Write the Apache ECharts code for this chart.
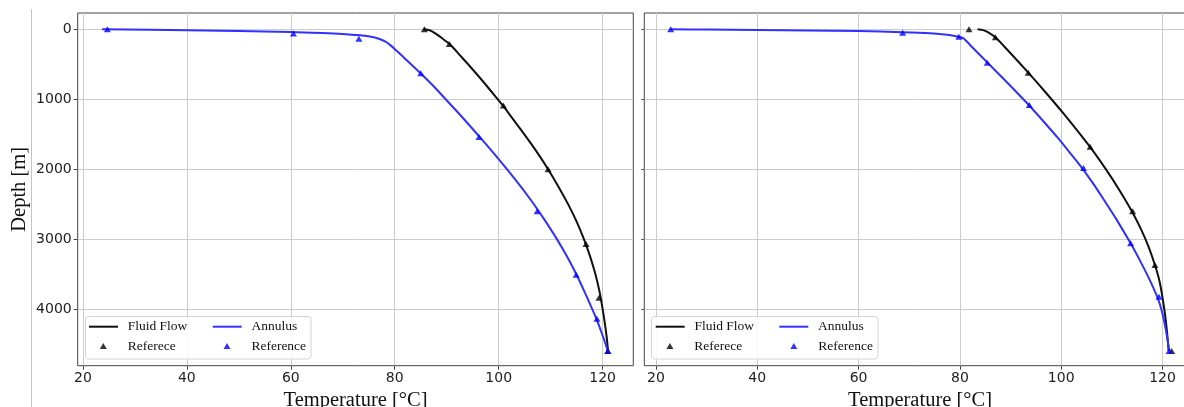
<!DOCTYPE html>
<html>
<head>
<meta charset="utf-8">
<script src="https://cdn.jsdelivr.net/npm/echarts@6/dist/echarts.min.js"></script>
<style>
  html, body { margin: 0; padding: 0; background: #fff; }
  #chart { width: 1184px; height: 407px; }
</style>
</head>
<body>
<div id="chart"></div>
<script>
// [temperature °C, depth m]
const leftFlowLine = [[85.6, 0], [86.3, 6], [87.0, 22], [88.1, 72], [89.4, 145], [90.6, 215], [92.9, 400], [95.3, 600], [97.6, 800], [99.8, 1000], [100.9, 1100], [102.4, 1250], [104.9, 1500], [107.3, 1750], [109.5, 2000], [111.5, 2250], [113.35, 2500], [115.0, 2750], [116.4, 3000], [117.6, 3250], [118.6, 3500], [119.4, 3750], [120.0, 4000], [120.42, 4200], [120.78, 4400], [121.05, 4600]]
const leftFlowRef = [[85.7, 0], [90.5, 210], [100.9, 1090], [109.5, 2000], [116.8, 3070], [119.3, 3840], [121.0, 4600]]
const leftAnnLine = [[23.7, 0], [40, 14], [60, 38], [66, 52], [70, 66], [73.35, 86], [75.5, 108], [77.2, 143], [78.3, 180], [79.2, 230], [80.4, 311], [81.7, 400], [85.0, 631], [87.3, 800], [89.8, 1000], [92.9, 1250], [96.5, 1553], [99.35, 1800], [103.2, 2150], [106.15, 2437], [108.6, 2700], [111.2, 3000], [113.15, 3250], [115.0, 3513], [116.5, 3750], [118.0, 4000], [118.9, 4158], [120.1, 4400], [121.0, 4600]]
const leftAnnRef = [[24.7, 0], [60.5, 60], [73.1, 135], [85.0, 630], [96.2, 1540], [107.4, 2600], [114.9, 3510], [118.9, 4140], [121.0, 4600]]

const rightFlowLine = [[83.5, 0], [84.6, 12], [85.6, 43], [87.0, 115], [89.45, 300], [93.5, 620], [96.9, 900], [100.4, 1200], [105.65, 1679], [108.8, 2000], [111.5, 2300], [114.0, 2608], [115.7, 2850], [117.2, 3100], [118.5, 3370], [119.4, 3600], [120.35, 4000], [120.85, 4300], [121.2, 4596]]
const rightFlowRef = [[81.8, 0], [87.0, 115], [93.5, 620], [105.7, 1680], [114.1, 2600], [118.5, 3370], [121.8, 4600]]
const rightAnnLine = [[22.9, 0], [30, 3], [40, 9], [50, 16], [60, 26], [68.7, 42], [74.1, 57], [77, 75], [79.0, 96], [80.0, 112], [80.7, 129], [82.35, 250], [85.45, 477], [88.5, 700], [91.2, 900], [93.6, 1083], [96.3, 1300], [99.3, 1550], [102.1, 1800], [104.15, 1988], [106.25, 2200], [108.45, 2441], [110.75, 2700], [113.7, 3060], [115.5, 3300], [117.25, 3550], [118.95, 3824], [119.75, 4000], [120.4, 4200], [120.9, 4400], [121.33, 4596]]
const rightAnnRef = [[22.9, 0], [68.7, 48], [79.8, 108], [85.4, 477], [93.7, 1083], [104.4, 1985], [113.7, 3060], [119.3, 3824], [121.3, 4600]]

const tempTicks = [20, 40, 60, 80, 100, 120]
const depthTicks = [0, 1000, 2000, 3000, 4000]

const serif = "Liberation Serif"
const sans = "DejaVu Sans"
const frame = "#444"
const gridLine = "#cccccc"
const black = "#111"
const blueLine = "#3131ff"
const blueMark = "#0000ff"

const chart = echarts.init(document.getElementById("chart"), null, { renderer: "canvas" })

function xAxis(gridIndex, min, max) {
  return {
    type: "value",
    gridIndex,
    position: "bottom",
    min,
    max,
    name: "Temperature [°C]",
    nameLocation: "middle",
    nameGap: 22,
    nameTextStyle: { fontFamily: serif, fontSize: 20.5, color: black },
    axisLine: { show: false, onZero: false },
    axisTick: { show: true, length: 4, customValues: tempTicks, lineStyle: { color: frame } },
    axisLabel: { customValues: tempTicks, margin: 6, fontFamily: sans, fontSize: 14, color: "#222", formatter: (v) => String(v) },
    splitLine: { show: true, lineStyle: { color: gridLine, width: 1 } }
  }
}

function yAxis(gridIndex, withLabels) {
  return {
    type: "value",
    gridIndex,
    position: "left",
    inverse: true,
    min: -233,
    max: 4810,
    name: withLabels ? "Depth [m]" : "",
    nameLocation: "middle",
    nameGap: 48,
    nameTextStyle: { fontFamily: serif, fontSize: 20.5, color: black },
    axisLine: { show: false, onZero: false },
    axisTick: { show: true, length: withLabels ? 4 : 3, customValues: depthTicks, lineStyle: { color: frame } },
    axisLabel: { show: withLabels, customValues: depthTicks, margin: 6, fontFamily: sans, fontSize: 14, color: "#222", formatter: (v) => String(v) },
    splitLine: { show: true, lineStyle: { color: gridLine, width: 1 } }
  }
}

function lineSeries(name, idx, data, color, z) {
  return {
    name, type: "line", xAxisIndex: idx, yAxisIndex: idx, data,
    symbol: "none", smooth: 0.3, color, z,
    lineStyle: { width: 2, color }
  }
}

function refSeries(name, idx, data, color, z) {
  return {
    name, type: "scatter", xAxisIndex: idx, yAxisIndex: idx, data,
    symbol: "triangle", symbolSize: [7, 6], color, z,
    itemStyle: { color }
  }
}

// one legend per entry so the two columns line up like the original
function lineLegend(left, top, name) {
  return {
    left, top, padding: 0, itemWidth: 29, itemHeight: 2, selectedMode: false,
    data: [{ name, icon: "rect" }],
    textStyle: { fontFamily: serif, fontSize: 13.5, color: black, lineHeight: 14, padding: [0, 0, 0, 4.7] }
  }
}

function markLegend(left, top, name) {
  return {
    left, top, padding: 0, itemWidth: 7, itemHeight: 6, selectedMode: false,
    data: [{ name, icon: "triangle" }],
    textStyle: { fontFamily: serif, fontSize: 13.5, color: black, lineHeight: 14, padding: [0, 0, 0, 15.9] }
  }
}

function legendBox(x, y, w, h) {
  return {
    type: "rect", z: 3,
    shape: { x, y, width: w, height: h, r: 3 },
    style: { fill: "rgba(255,255,255,0.85)", stroke: "#d4d4d4", lineWidth: 1 }
  }
}

chart.setOption({
  animation: false,
  backgroundColor: "#fff",
  grid: [
    { left: 77.7, top: 13, right: 550.7, bottom: 41.3, outerBoundsMode: "none", show: true, borderColor: frame, borderWidth: 1 },
    { left: 644.3, top: 13, right: -11.7, bottom: 41.3, outerBoundsMode: "none", show: true, borderColor: frame, borderWidth: 1 }
  ],
  xAxis: [xAxis(0, 19.0, 125.9), xAxis(1, 17.7, 126.55)],
  yAxis: [yAxis(0, true), yAxis(1, false)],
  legend: [
    lineLegend(89, 319.7, "Fluid Flow"),
    lineLegend(212.7, 319.7, "Annulus"),
    markLegend(99.8, 339, "Referece"),
    markLegend(223.5, 339, "Reference"),
    lineLegend(655.7, 319.7, "Fluid Flow"),
    lineLegend(779.3, 319.7, "Annulus"),
    markLegend(666.4, 339, "Referece"),
    markLegend(790.3, 339, "Reference")
  ],
  graphic: [
    { type: "line", shape: { x1: 31.5, y1: 9, x2: 31.5, y2: 407 }, style: { stroke: "#c4c4c4", lineWidth: 1 } },
    legendBox(85.5, 316.5, 225.5, 42.5),
    legendBox(651.5, 316.5, 226.5, 42.5)
  ],
  series: [
    lineSeries("Fluid Flow", 0, leftFlowLine, black, 2),
    refSeries("Referece", 0, leftFlowRef, "#000", 3),
    lineSeries("Annulus", 0, leftAnnLine, blueLine, 2),
    refSeries("Reference", 0, leftAnnRef, blueMark, 3),
    lineSeries("Fluid Flow", 1, rightFlowLine, black, 2),
    refSeries("Referece", 1, rightFlowRef, "#000", 3),
    lineSeries("Annulus", 1, rightAnnLine, blueLine, 2),
    refSeries("Reference", 1, rightAnnRef, blueMark, 3)
  ]
})
</script>
</body>
</html>
